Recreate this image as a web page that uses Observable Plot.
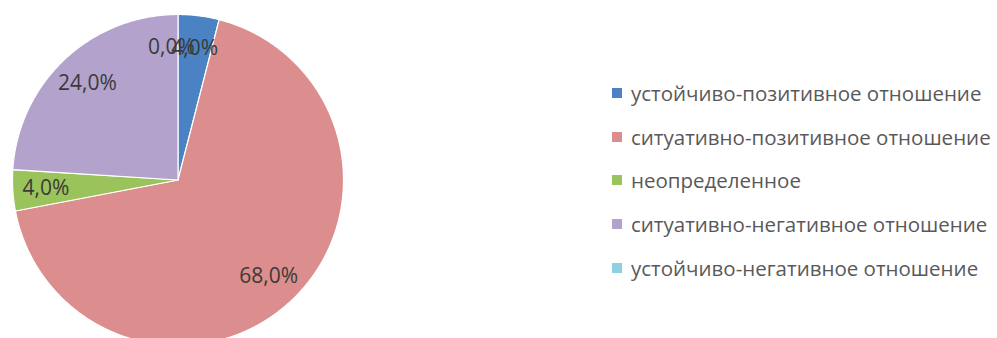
<!DOCTYPE html>
<html><head><meta charset="utf-8">
<script src="https://cdn.jsdelivr.net/npm/d3@7"></script>
<script src="https://cdn.jsdelivr.net/npm/@observablehq/plot@0.6"></script>
<style>
body{margin:0;background:#fff;}
#wrap{position:relative;width:997px;height:338px;font-family:"Open Sans","Liberation Sans",sans-serif;}
#legend{position:absolute;left:612px;top:71px;}
.row{display:flex;align-items:center;height:43.7px;font-size:20.5px;color:#595959;white-space:nowrap;}
.sw{width:10px;height:10px;margin-right:9px;flex:none;}
</style>
</head><body><div id="wrap"></div>
<script>
const categories = ["устойчиво-позитивное отношение","ситуативно-позитивное отношение","неопределенное","ситуативно-негативное отношение","устойчиво-негативное отношение"];
const values = [4, 68, 4, 24, 0];
const valueLabels = ["4,0%", "68,0%", "4,0%", "24,0%", "0,0%"];
const colors = ["#4a82c4", "#db8e8d", "#9bc35c", "#b3a3cc", "#8fcfe2"];

const total = d3.sum(values);
const polys = [];
const labelPts = [];
let acc = 0;
values.forEach((v, i) => {
  const a0 = acc / total * 2 * Math.PI;
  acc += v;
  const a1 = acc / total * 2 * Math.PI;
  const steps = Math.max(2, Math.ceil((a1 - a0) / (Math.PI / 360)));
  if (v > 0) {
    polys.push({cat: categories[i], x: 0, y: 0});
    for (let k = 0; k <= steps; k++) {
      const a = a0 + (a1 - a0) * k / steps;
      polys.push({cat: categories[i], x: Math.sin(a), y: Math.cos(a)});
    }
    polys.push({cat: categories[i], x: 0, y: 0});
  }
  const am = (a0 + a1) / 2;
  const f = 0.8;
  labelPts.push({text: valueLabels[i], x: f * Math.sin(am) - (v === 0 ? 0.04 : 0), y: f * Math.cos(am)});
});

const chart = Plot.plot({
  width: 997, height: 338,
  marginTop: 0, marginBottom: 0, marginLeft: 0, marginRight: 0,
  x: {domain: [-1, 1], range: [12, 343], axis: null},
  y: {domain: [-1, 1], range: [345, 14], axis: null},
  color: {domain: categories, range: colors},
  style: {background: "transparent", overflow: "hidden"},
  marks: [
    Plot.line(polys, {x: "x", y: "y", z: "cat", fill: "cat", stroke: "white", strokeWidth: 1.2, curve: "linear"}),
    Plot.text(labelPts, {x: "x", y: "y", text: "text", fontSize: 21, fill: "#3a3a3a", fontFamily: "Open Sans, Liberation Sans, sans-serif"})
  ]
});
const wrap = document.getElementById("wrap");
wrap.appendChild(chart);
const leg = document.createElement("div");
leg.id = "legend";
categories.forEach((c, i) => {
  const r = document.createElement("div");
  r.className = "row";
  r.innerHTML = `<span class="sw" style="background:${colors[i]}"></span><span>${c}</span>`;
  leg.appendChild(r);
});
wrap.appendChild(leg);
</script>
</body></html>
